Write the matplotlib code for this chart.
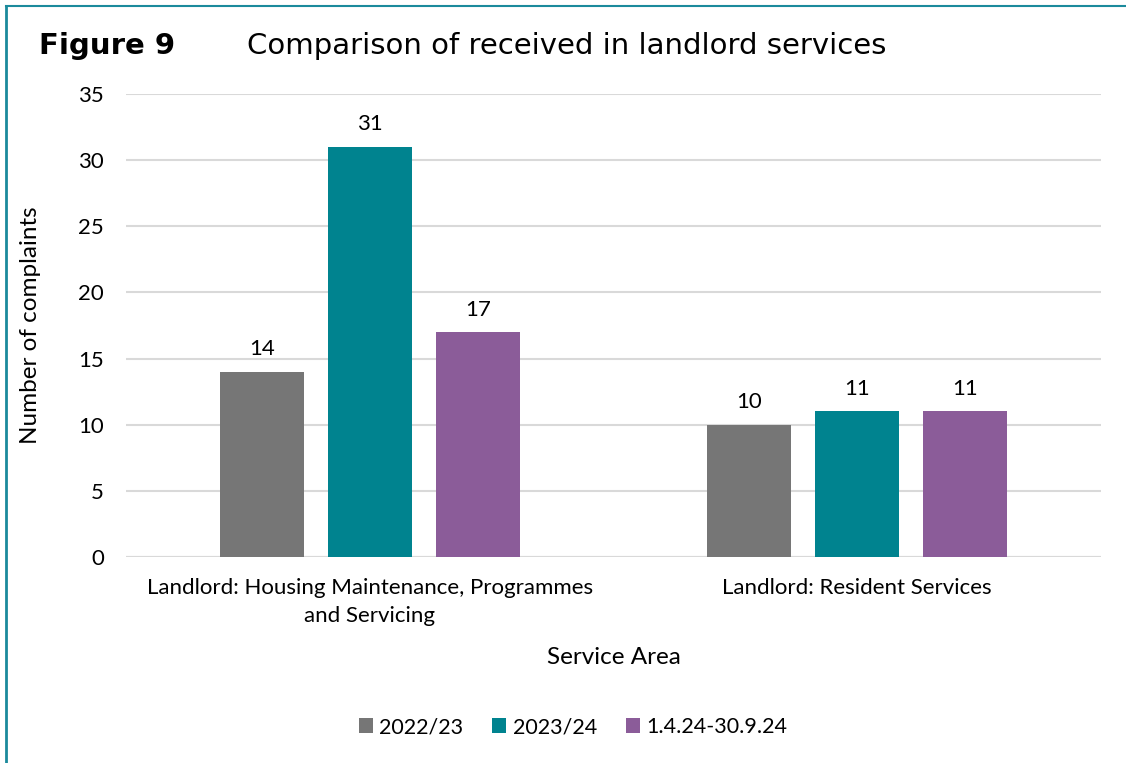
import matplotlib.pyplot as plt
from matplotlib.lines import Line2D
import numpy as np

# data
categories = ['Landlord: Housing Maintenance, Programmes\nand Servicing',
              'Landlord: Resident Services']
series_names = ['2022/23', '2023/24', '1.4.24-30.9.24']
vals_2223 = [14, 10]
vals_2324 = [31, 11]
vals_2024h1 = [17, 11]
colors = ['#767676', '#00838F', '#8B5C99']

plt.rcParams['font.family'] = ['Lato', 'DejaVu Sans']

fig = plt.figure(figsize=(11.26, 7.63), dpi=100)
ax = fig.add_axes([126 / 1126, 1 - 557 / 763, 975 / 1126, 463 / 763])

x = np.arange(len(categories))
width = 84 / 487.5
step = 108 / 487.5
all_vals = [vals_2223, vals_2324, vals_2024h1]
for i, (vals, name, c) in enumerate(zip(all_vals, series_names, colors)):
    bars = ax.bar(x + (i - 1) * step, vals, width, color=c, label=name, zorder=3)
    ax.bar_label(bars, padding=9, fontsize=16)

ax.set_xlim(-0.5, 1.5)
ax.set_ylim(0, 35)
ax.set_yticks(range(0, 36, 5))
ax.yaxis.grid(True, color='#d9d9d9', linewidth=1.5, zorder=0)
for s in ax.spines.values():
    s.set_visible(False)
ax.axhline(0, color='#d9d9d9', linewidth=1.5, zorder=2)
ax.tick_params(length=0, labelsize=16)
ax.tick_params(axis='y', pad=16)
ax.tick_params(axis='x', pad=15)
ax.set_xticks(x)
ax.set_xticklabels(categories, linespacing=1.5)
ax.set_xlabel('Service Area', fontsize=17.5)
ax.set_ylabel('Number of complaints', fontsize=17.5)
ax.xaxis.set_label_coords(0.5, -(657 - 557) / 463, transform=ax.transAxes)
ax.yaxis.set_label_coords(-(126 - 31) / 975, 0.5)
ax.xaxis.label.set_va('center')
ax.yaxis.label.set_va('center')

fig.text(39 / 1126, 1 - 46 / 763, 'Figure 9', fontsize=21, fontweight='bold',
         family='DejaVu Sans', va='center')
fig.text(247 / 1126, 1 - 46 / 763, 'Comparison of received in landlord services',
         fontsize=21, family='DejaVu Sans', va='center')

fig.legend(loc='center', bbox_to_anchor=(573 / 1126, 1 - 727 / 763), ncol=3,
           frameon=False, fontsize=15.5, handlelength=0.65, handleheight=0.65,
           handletextpad=0.3, columnspacing=1.35)

# teal frame lines on top and left edge
fig.add_artist(Line2D([6 / 1126, 6 / 1126], [0, 1 - 6 / 763], transform=fig.transFigure,
                      color='#1B8A9C', linewidth=2))
fig.add_artist(Line2D([6 / 1126, 1], [1 - 6 / 763, 1 - 6 / 763], transform=fig.transFigure,
                      color='#1B8A9C', linewidth=1.5))

fig.savefig('out.png', dpi=100)
